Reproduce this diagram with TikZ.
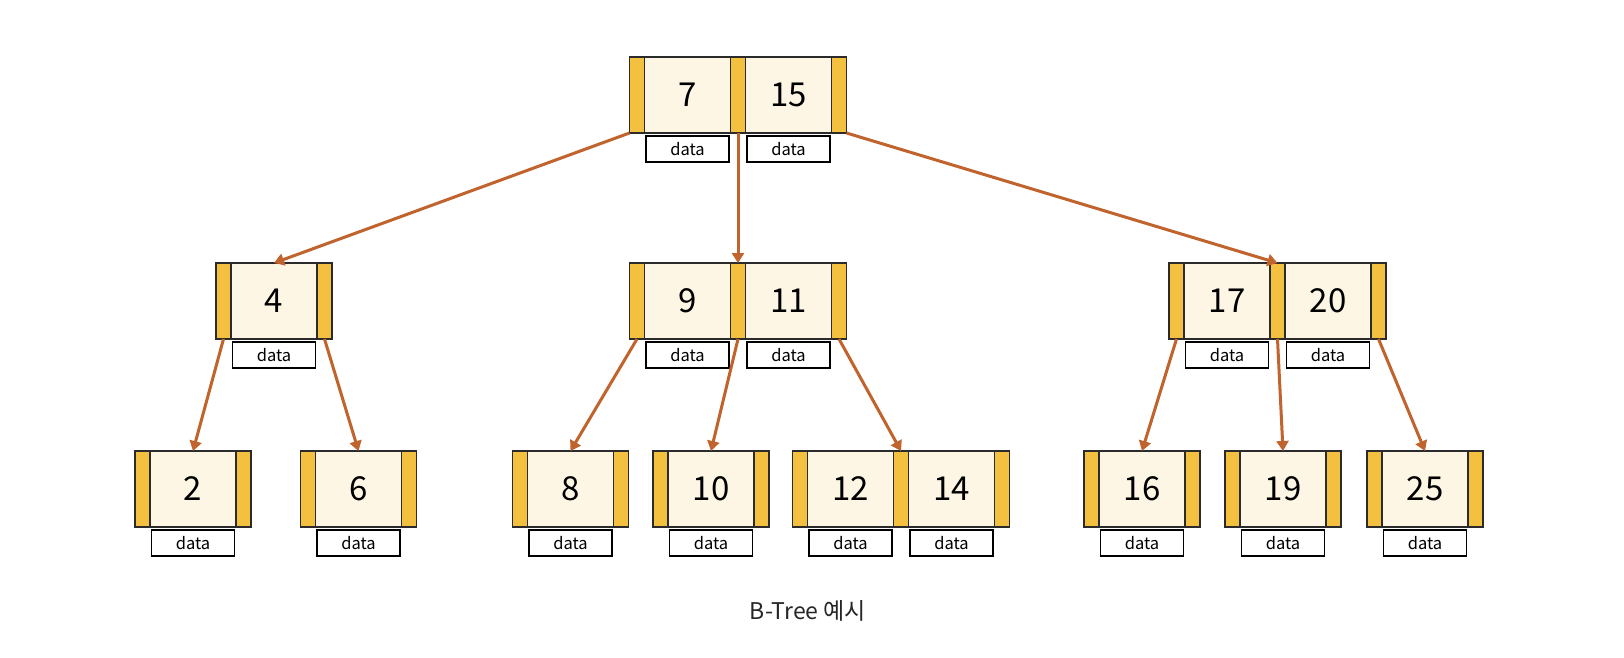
\documentclass[tikz,border=0pt]{standalone}
\usepackage{fontspec}
\setmainfont{Noto Sans CJK KR}
\usetikzlibrary{arrows.meta}
\definecolor{ptrc}{HTML}{F3C13F}
\definecolor{keyc}{HTML}{FDF6E4}
\definecolor{bd}{HTML}{2B2B2B}
\definecolor{arc}{HTML}{C0632C}
\newcommand\keyfont{\fontsize{33}{36}\selectfont}
\newcommand\datafont{\fontsize{16.5}{18}\selectfont}
\newcommand\capfont{\fontsize{23}{26}\selectfont}
\tikzset{
  ptr/.style={draw=bd, fill=ptrc, line width=1.8pt, outer sep=0pt, minimum width=15pt, minimum height=76pt, inner sep=0pt, anchor=north west},
  keybox/.style={draw=bd, fill=keyc, line width=1.8pt, outer sep=0pt, minimum width=86pt, minimum height=76pt, inner sep=0pt, anchor=north west, font=\keyfont},
  dat/.style={draw=black, fill=white, line width=1.8pt, outer sep=0pt, minimum width=83pt, minimum height=26pt, inner sep=0pt, anchor=north, font=\datafont},
  edge/.style={draw=arc, line width=3pt, -{Triangle[width=12pt,length=10pt]}}
}
\newcommand\onekey[4]{%
  \node[ptr] (#1p1) at (#2,#3) {};
  \node[keybox] (#1k1) at (#1p1.north east) {#4};
  \node[ptr] (#1p2) at (#1k1.north east) {};
  \node[dat] (#1d1) at ([yshift=-3pt]#1k1.south) {data};
}
\newcommand\twokey[5]{%
  \node[ptr] (#1p1) at (#2,#3) {};
  \node[keybox] (#1k1) at (#1p1.north east) {#4};
  \node[ptr] (#1p2) at (#1k1.north east) {};
  \node[keybox] (#1k2) at (#1p2.north east) {#5};
  \node[ptr] (#1p3) at (#1k2.north east) {};
  \node[dat] (#1d1) at ([yshift=-3pt]#1k1.south) {data};
  \node[dat] (#1d2) at ([yshift=-3pt]#1k2.south) {data};
}
\begin{document}
\begin{tikzpicture}[x=1pt,y=-1pt]
\useasboundingbox[fill=white] (0,0) rectangle (1624,658);
% level 1
\twokey{r}{629.5}{57}{7}{15}
% level 2
\onekey{a}{216}{263}{4}
\twokey{b}{629.5}{263}{9}{11}
\twokey{c}{1169}{263}{17}{20}
% level 3
\onekey{m}{135}{451}{2}
\onekey{n}{300.5}{451}{6}
\onekey{o}{512.5}{451}{8}
\onekey{q}{653}{451}{10}
\twokey{s}{792.5}{451}{12}{14}
\onekey{t}{1084}{451}{16}
\onekey{u}{1225}{451}{19}
\onekey{v}{1367}{451}{25}
% edges
\draw[edge] (rp1.south west) -- (ak1.north);
\draw[edge] (rp2.south) -- (bp2.north);
\draw[edge] (rp3.south east) -- (cp2.north);
\draw[edge] (ap1.south) -- (mk1.north);
\draw[edge] (ap2.south) -- (nk1.north);
\draw[edge] (bp1.south) -- (ok1.north);
\draw[edge] (bp2.south) -- (qk1.north);
\draw[edge] (bp3.south) -- (sp2.north);
\draw[edge] (cp1.south) -- (tk1.north);
\draw[edge] (cp2.south) -- (uk1.north);
\draw[edge] (cp3.south) -- (vk1.north);
% caption
\node[font=\capfont, text=black!85] (cap) at (808,611) {B-Tree 예시};
\end{tikzpicture}
\end{document}
